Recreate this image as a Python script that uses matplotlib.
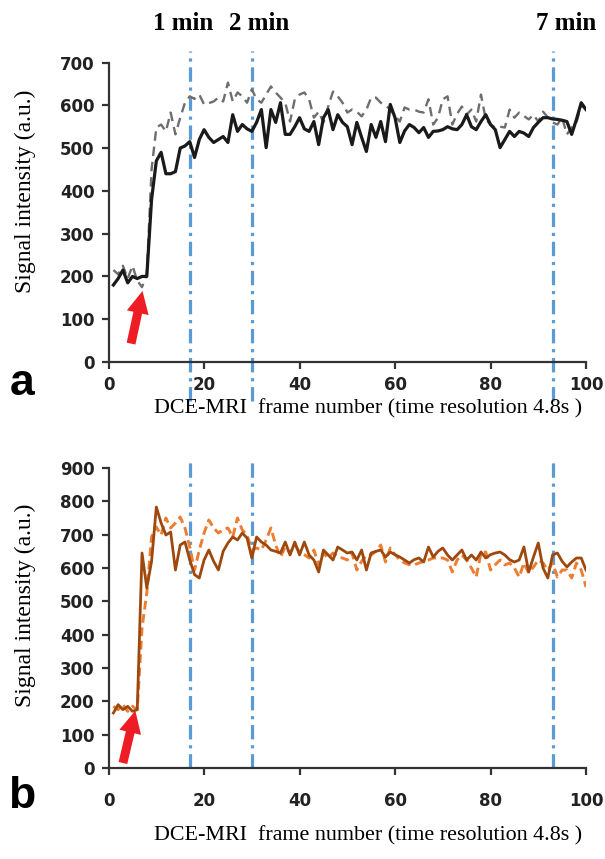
import numpy as np
import matplotlib
matplotlib.use("Agg")
import matplotlib.pyplot as plt

# frame numbers 1..100
frames = np.arange(1, 101)

# panel a : solid black and dashed grey curves
a_solid = [180, 195, 215, 185, 200, 195, 200, 200, 380, 470,
           490, 440, 440, 445, 500, 505, 515, 478, 520, 543,
           525, 513, 520, 527, 513, 578, 539, 555, 545, 539,
           560, 590, 501, 590, 560, 606, 532, 532, 550, 571,
           545, 539, 562, 508, 571, 590, 543, 578, 560, 550,
           508, 560, 525, 492, 555, 525, 562, 515, 602, 571,
           513, 540, 555, 548, 536, 548, 525, 539, 540, 543,
           550, 545, 543, 555, 578, 550, 543, 562, 578, 555,
           543, 501, 520, 539, 527, 539, 535, 527, 548, 560,
           571, 571, 568, 567, 565, 562, 532, 567, 606, 590]
a_dashed = [215, 205, 225, 195, 225, 190, 175, 205, 450, 548,
            555, 539, 583, 532, 571, 606, 621, 615, 625, 602,
            605, 609, 618, 609, 653, 609, 630, 621, 606, 637,
            614, 606, 625, 644, 630, 618, 606, 562, 614, 625,
            630, 614, 571, 585, 560, 597, 632, 621, 606, 583,
            590, 585, 574, 590, 618, 618, 606, 600, 590, 575,
            562, 595, 590, 590, 585, 583, 614, 555, 571, 614,
            621, 555, 580, 597, 578, 590, 562, 625, 567, 555,
            548, 550, 548, 590, 571, 583, 575, 567, 578, 562,
            585, 572, 560, 555, 571, 532, 548, 560, 600, 590]

# panel b : solid brown and dashed orange curves
b_solid = [165, 190, 175, 185, 170, 175, 645, 540, 620, 783,
           735, 699, 708, 594, 669, 678, 624, 580, 570, 624,
           654, 620, 594, 650, 675, 693, 684, 705, 690, 630,
           693, 678, 669, 654, 650, 645, 678, 639, 678, 639,
           678, 639, 624, 588, 654, 639, 624, 663, 654, 645,
           648, 624, 654, 594, 645, 650, 654, 633, 648, 640,
           633, 624, 615, 625, 630, 618, 663, 633, 650, 660,
           639, 624, 639, 654, 624, 639, 624, 648, 630, 640,
           645, 648, 639, 625, 618, 624, 663, 588, 633, 675,
           600, 570, 639, 645, 620, 603, 618, 630, 630, 594]
b_dashed = [185, 175, 190, 170, 185, 175, 420, 525, 693, 723,
            699, 750, 720, 735, 753, 720, 663, 594, 654, 705,
            744, 720, 705, 715, 720, 693, 750, 714, 699, 654,
            660, 654, 684, 720, 669, 633, 663, 645, 669, 648,
            640, 630, 654, 609, 645, 630, 645, 633, 630, 624,
            645, 594, 620, 639, 639, 650, 669, 618, 660, 640,
            624, 615, 610, 609, 615, 620, 624, 630, 630, 630,
            624, 588, 624, 639, 624, 600, 573, 645, 648, 594,
            610, 624, 609, 615, 600, 573, 615, 585, 603, 624,
            615, 594, 615, 573, 594, 594, 570, 615, 594, 543]

# time markers (frame number) and their labels
marker_frames = [17, 30, 93]
marker_labels = ["1 min", "2 min", "7 min"]

x_ticks = [0, 20, 40, 60, 80, 100]
xlabel = "DCE-MRI  frame number (time resolution 4.8s )"
ylabel = "Signal intensity (a.u.)"

W, H = 605, 859
fig = plt.figure(figsize=(W / 100, H / 100), dpi=100)
fig.patch.set_facecolor("white")

serif = ["Liberation Serif", "DejaVu Serif"]


def make_axes(top_px, bottom_px, xpad):
    left, right = 108.6, 586
    ax = fig.add_axes([left / W, 1 - bottom_px / H, (right - left) / W,
                       (bottom_px - top_px) / H])
    for s in ["top", "right"]:
        ax.spines[s].set_visible(False)
    for s in ["left", "bottom"]:
        ax.spines[s].set_linewidth(1.6)
        ax.spines[s].set_color("#333333")
    ax.set_xlim(0, 100)
    ax.set_xticks(x_ticks)
    ax.tick_params(axis="both", direction="out", length=5, width=1.6,
                   color="#333333")
    ax.tick_params(axis="x", pad=xpad)
    ax.tick_params(axis="y", pad=5)
    return ax


def style_ticks(ax):
    for lab in ax.get_xticklabels() + ax.get_yticklabels():
        lab.set_fontfamily("DejaVu Sans")
        lab.set_fontweight("bold")
        lab.set_fontsize(12)
        lab.set_color("#222222")


def time_lines(ax, ymin, ymax):
    for xm in marker_frames:
        ax.plot([xm, xm], [ymin, ymax], color="#5B9BD5", lw=2.3,
                dashes=(4.5, 1.8, 1, 1.8), clip_on=False, zorder=1)


arrow = dict(arrowstyle="simple,head_width=0.8,head_length=0.8,tail_width=0.32",
             mutation_scale=20, color="#EE1C25", lw=0, shrinkA=0, shrinkB=0)

# ---- panel a ----
ax1 = make_axes(62.5, 362, 5)
ax1.set_ylim(0, 700)
ax1.set_yticks(range(0, 701, 100))
style_ticks(ax1)
time_lines(ax1, -92, 727)
ax1.plot(frames, a_dashed, color="#6e6e6e", lw=1.7, dashes=(4, 2.5), zorder=3)
ax1.plot(frames, a_solid, color="#1a1a1a", lw=2.3, zorder=4)
ax1.annotate("", xy=(7.1, 166), xytext=(4.7, 43), arrowprops=arrow)

# ---- panel b ----
ax2 = make_axes(468, 768, 12)
ax2.set_ylim(0, 900)
ax2.set_yticks(range(0, 901, 100))
style_ticks(ax2)
time_lines(ax2, 0, 918)
ax2.plot(frames, b_dashed, color="#ED7D31", lw=2.1, dashes=(3, 1.6), zorder=3)
ax2.plot(frames, b_solid, color="#9E480E", lw=2.0, zorder=4)
ax2.annotate("", xy=(5.6, 172), xytext=(3.0, 15), arrowprops=arrow)

# time marker labels above panel a
for txt, xc in zip(marker_labels, [183, 259, 566]):
    fig.text(xc / W, 1 - 23 / H, txt, ha="center", va="center",
             family=serif, weight="bold", size=18)

# axis labels
fig.text(368 / W, 1 - 409 / H, xlabel, ha="center", va="center",
         family=serif, size=15.8)
fig.text(368 / W, 1 - 836 / H, xlabel, ha="center", va="center",
         family=serif, size=15.8)
fig.text(25 / W, 1 - 191 / H, ylabel, ha="center", va="center",
         rotation=90, family=serif, size=17)
fig.text(25 / W, 1 - 605 / H, ylabel, ha="center", va="center",
         rotation=90, family=serif, size=17)

# panel letters
fig.text(22 / W, 1 - 384 / H, "a", ha="center", va="center",
         family="Liberation Sans", weight="bold", size=32)
fig.text(22 / W, 1 - 797 / H, "b", ha="center", va="center",
         family="Liberation Sans", weight="bold", size=32)

fig.savefig("out.png", dpi=100, facecolor="white")
